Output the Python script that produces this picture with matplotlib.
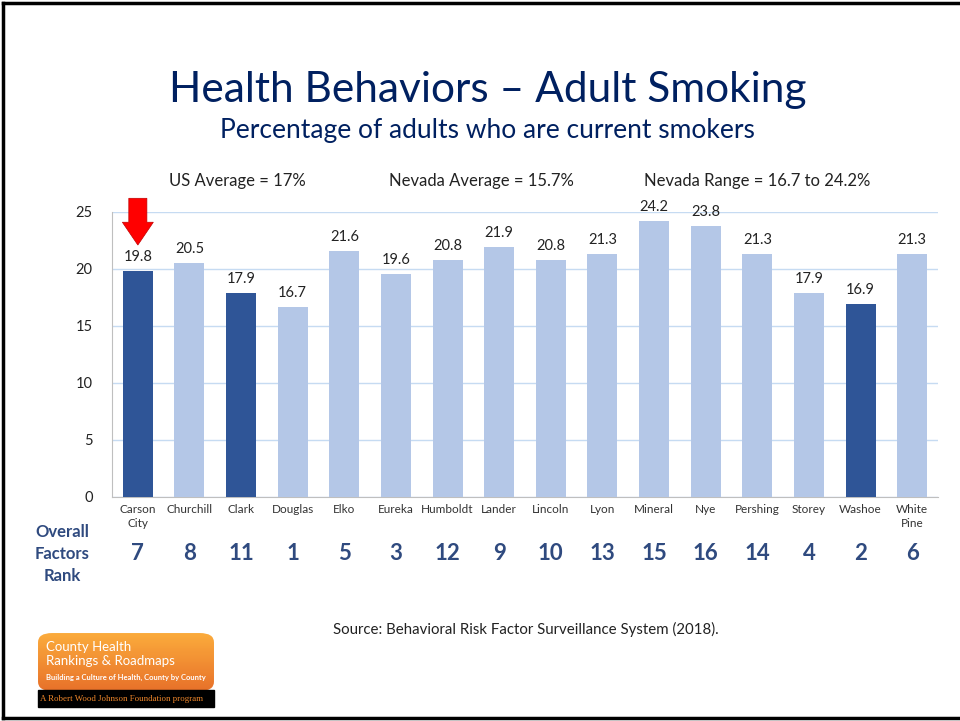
import numpy as np
import matplotlib.pyplot as plt
from matplotlib.patches import FancyArrow, FancyBboxPatch, Rectangle

counties = ['Carson\nCity', 'Churchill', 'Clark', 'Douglas', 'Elko', 'Eureka',
            'Humboldt', 'Lander', 'Lincoln', 'Lyon', 'Mineral', 'Nye',
            'Pershing', 'Storey', 'Washoe', 'White\nPine']
smoking = [19.8, 20.5, 17.9, 16.7, 21.6, 19.6, 20.8, 21.9, 20.8, 21.3,
           24.2, 23.8, 21.3, 17.9, 16.9, 21.3]
ranks = [7, 8, 11, 1, 5, 3, 12, 9, 10, 13, 15, 16, 14, 4, 2, 6]
highlight = ['Carson\nCity', 'Clark', 'Washoe']

NAVY = '#002060'
DARK = '#2f5597'
LIGHT = '#b4c7e7'
RANKC = '#2f4a7f'

plt.rcParams['font.family'] = ['Lato', 'DejaVu Sans']

fig = plt.figure(figsize=(9.6, 7.21), dpi=100)

# slide frame
fig.add_artist(plt.Line2D([0.0035, 0.0035], [0.004, 0.996], color='black', lw=2.5))
fig.add_artist(plt.Line2D([0.0035, 1.0], [0.996, 0.996], color='black', lw=2.5))
fig.add_artist(plt.Line2D([0.0035, 1.0], [0.004, 0.004], color='black', lw=2.5))

ax = fig.add_axes([0.1167, 0.3107, 0.8604, 0.3953])
x = list(range(len(counties)))
colors = [DARK if c in highlight else LIGHT for c in counties]
ax.bar(x, smoking, width=0.58, color=colors, zorder=3)
for xi, v in zip(x, smoking):
    ax.text(xi, v + 0.6, f'{v}', ha='center', va='bottom', fontsize=10.5, color='#222222')

ax.set_xlim(-0.5, len(counties) - 0.5)
ax.set_ylim(0, 25)
ax.set_yticks([0, 5, 10, 15, 20, 25])
ax.tick_params(axis='y', length=0, labelsize=10.5, pad=14, labelcolor='#222222')
ax.set_xticks(x)
ax.set_xticklabels(counties, fontsize=8.5, color='#333333', linespacing=1.35)
ax.tick_params(axis='x', length=0, pad=5)
ax.grid(axis='y', color='#c6dbf2', lw=1, zorder=0)
for s in ['top', 'right']:
    ax.spines[s].set_visible(False)
ax.spines['left'].set_color('#bfbfbf')
ax.spines['bottom'].set_color('#bfbfbf')

# red arrow above Carson City
ax.add_patch(FancyArrow(0, 26.2, 0, -4.1, width=0.35, head_width=0.6, head_length=2.0,
                        length_includes_head=True, color='#ff0000', ec='#c00000',
                        lw=0.5, zorder=5, clip_on=False))

# ranks row
for xi, r in zip(x, ranks):
    ax.text(xi, -5.0, str(r), ha='center', va='center', fontsize=16, fontweight='bold',
            color=RANKC, clip_on=False)
fig.text(0.065, 0.232, 'Overall\nFactors\nRank', ha='center', va='center', fontsize=12,
         fontweight='bold', color=RANKC, linespacing=1.45)

# titles
fig.text(0.508, 0.875, 'Health Behaviors \u2013 Adult Smoking', ha='center', va='center',
         fontsize=30.5, color=NAVY)
fig.text(0.508, 0.819, 'Percentage of adults who are current smokers', ha='center',
         va='center', fontsize=19, color=NAVY)

fig.text(0.247, 0.749, 'US Average = 17%', ha='center', va='center', fontsize=12, color='#222222')
fig.text(0.502, 0.749, 'Nevada Average = 15.7%', ha='center', va='center', fontsize=12, color='#222222')
fig.text(0.789, 0.749, 'Nevada Range = 16.7 to 24.2%', ha='center', va='center', fontsize=12, color='#222222')

fig.text(0.548, 0.127, 'Source: Behavioral Risk Factor Surveillance System (2018).', ha='center',
         va='center', fontsize=10.8, color='#222222')

# logo
lx, lw = 0.0396, 0.1833
fig.add_artist(Rectangle((lx, 0.0194), lw, 0.0232, transform=fig.transFigure, color='black'))
lax = fig.add_axes([lx, 0.0416, lw, 0.0804])
lax.set_axis_off()
grad = np.linspace(0, 1, 64).reshape(-1, 1)
img = lax.imshow(grad, cmap=plt.matplotlib.colors.LinearSegmentedColormap.from_list(
    'logo', ['#fbab3c', '#e8722a']), aspect='auto', extent=(0, 1, 0, 1))
clip = FancyBboxPatch((0, 0), 1, 1, boxstyle='round,pad=0,rounding_size=0.08',
                      transform=lax.transAxes, mutation_aspect=2.0, fc='none', ec='none')
lax.add_patch(clip)
img.set_clip_path(clip)
fig.text(0.048, 0.103, 'County Health', fontsize=9.5, color='white', va='center')
fig.text(0.048, 0.083, 'Rankings & Roadmaps', fontsize=9.5, color='white', va='center')
fig.text(0.048, 0.060, 'Building a Culture of Health, County by County', fontsize=5.5,
         color='white', va='center', fontweight='bold')
fig.text(0.0415, 0.0305, 'A Robert Wood Johnson Foundation program', fontsize=6.4,
         color='#f0872b', va='center', ha='left', family='Liberation Serif')

fig.savefig('out.png', dpi=100)
